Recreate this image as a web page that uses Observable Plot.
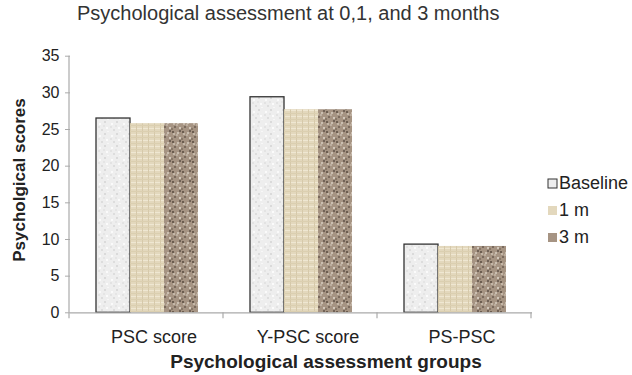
<!DOCTYPE html>
<html>
<head>
<meta charset="utf-8">
<script src="https://cdn.jsdelivr.net/npm/d3@7"></script>
<script src="https://cdn.jsdelivr.net/npm/@observablehq/plot@0.6"></script>
<style>
  html, body { margin: 0; padding: 0; background: #fff; }
  #wrap { position: relative; width: 632px; height: 375px; overflow: hidden; font-family: "Liberation Sans", Arial, sans-serif; color: #222; }
  #title { position: absolute; left: 77px; top: 2px; font-size: 20px; color: #333; white-space: nowrap; }
  #legend { position: absolute; left: 547px; top: 170px; font-size: 18px; color: #222; }
  #legend .row { display: flex; align-items: center; height: 27px; white-space: nowrap; }
  #legend svg { display: block; }
  #chart { position: absolute; left: 0; top: 0; }
</style>
</head>
<body>
<div id="wrap">
  <div id="chart"></div>
  <div id="title">Psychological assessment at 0,1, and 3 months</div>
  <div id="legend"></div>
</div>
<script>
// ---- data ----
const groups = ["PSC score", "Y-PSC score", "PS-PSC"];
const series = ["Baseline", "1 m", "3 m"];
const baseline = [26.5, 29.4, 9.3];
const month1 = [25.8, 27.7, 9.05];
const month3 = [25.8, 27.7, 9.05];
const yTicks = [0, 5, 10, 15, 20, 25, 30, 35];

const valuesBySeries = [baseline, month1, month3];
const rows = [];
groups.forEach((g, i) => series.forEach((s, j) => rows.push({group: g, series: s, value: valuesBySeries[j][i]})));

const patternIds = ["pat-base", "pat-1m", "pat-3m"];
const fills = patternIds.map(id => `url(#${id})`);

const chart = Plot.plot({
  width: 632,
  height: 375,
  marginLeft: 69,
  marginRight: 99,
  marginTop: 55.7,
  marginBottom: 62.7,
  style: {fontFamily: "Liberation Sans, Arial, sans-serif", fontSize: "16px", color: "#222", background: "transparent"},
  fx: {domain: groups, padding: 0, label: null, axis: null},
  x: {domain: series, paddingInner: 0, paddingOuter: 0.75, axis: null},
  y: {domain: [0, 35], ticks: yTicks, label: null, axis: null},
  color: {domain: series, range: fills, type: "ordinal"},
  marks: [
    Plot.barY(rows, {fx: "group", x: "series", y: "value", fill: "series",
      stroke: d => d.series === "Baseline" ? "#333" : "none", strokeWidth: 1.3}),
    Plot.ruleY([0], {stroke: "#aaa", strokeWidth: 1.2}),
    Plot.axisY({ticks: yTicks, facetAnchor: "left", frameAnchor: "left", tickSize: 5, tickPadding: 6, stroke: "#aaa", label: null, fontSize: 16, fill: "#222"})
  ]
});
document.getElementById("chart").appendChild(chart);

const svg = d3.select(chart);
// patterns (styling only)
const defs = svg.insert("defs", ":first-child");
{
  const p = defs.append("pattern").attr("id", "pat-base").attr("patternUnits", "userSpaceOnUse").attr("width", 12).attr("height", 12);
  p.append("rect").attr("width", 12).attr("height", 12).attr("fill", "#eeeeee");
  [[2,3,"#fafafa"],[7,1,"#dadada"],[9,7,"#fbfbfb"],[4,9,"#dddddd"],[1,6,"#e3e3e3"],[10,11,"#f7f7f7"],[6,5,"#e5e5e5"]].forEach(([x,y,c]) =>
    p.append("rect").attr("x", x).attr("y", y).attr("width", 2).attr("height", 2).attr("fill", c));
}
{
  const p = defs.append("pattern").attr("id", "pat-1m").attr("patternUnits", "userSpaceOnUse").attr("width", 6).attr("height", 6);
  p.append("rect").attr("width", 6).attr("height", 6).attr("fill", "#e3d8bd");
  p.append("rect").attr("x", 0).attr("y", 2).attr("width", 6).attr("height", 1).attr("fill", "#efe7d2");
  p.append("rect").attr("x", 3).attr("y", 0).attr("width", 1).attr("height", 6).attr("fill", "#d6c9aa");
  p.append("rect").attr("x", 0).attr("y", 5).attr("width", 6).attr("height", 1).attr("fill", "#dbcfb0");
}
{
  const p = defs.append("pattern").attr("id", "pat-3m").attr("patternUnits", "userSpaceOnUse").attr("width", 10).attr("height", 10);
  p.append("rect").attr("width", 10).attr("height", 10).attr("fill", "#a69483");
  [[1,1,"#6c5d50"],[6,2,"#cbbfb1"],[3,6,"#7a6a5d"],[8,7,"#d2c7ba"],[0,8,"#887868"],[5,4,"#bcae9f"],[8,0,"#716256"],[2,3,"#c4b7a8"]].forEach(([x,y,c]) =>
    p.append("rect").attr("x", x).attr("y", y).attr("width", 2).attr("height", 2).attr("fill", c));
}

// axes lines, x-axis ticks at group boundaries and labels, using Plot's scales
const fx = chart.scale("fx");
const yScale = chart.scale("y");
const y0 = yScale.apply(0);
const yTop = yScale.apply(35);
const left = 69;
const step = fx.bandwidth;
const g = svg.append("g");
g.append("line").attr("x1", left).attr("x2", left).attr("y1", yTop).attr("y2", y0).attr("stroke", "#aaa").attr("stroke-width", 1.2);
for (let i = 0; i <= groups.length; i++) {
  const xx = left + i * step;
  g.append("line").attr("x1", xx).attr("x2", xx).attr("y1", y0).attr("y2", y0 + 6).attr("stroke", "#aaa").attr("stroke-width", 1.2);
}
groups.forEach((grp, i) => {
  g.append("text").attr("x", left + (i + 0.5) * step + 8).attr("y", y0 + 31)
    .attr("text-anchor", "middle").attr("font-size", 18).attr("fill", "#222").text(grp);
});
g.append("text").attr("x", 326).attr("y", 368).attr("text-anchor", "middle")
  .attr("font-size", 19).attr("font-weight", "bold").attr("fill", "#222").text("Psychological assessment groups");
g.append("text").attr("transform", `translate(25,180) rotate(-90)`)
  .attr("text-anchor", "middle").attr("font-size", 17).attr("font-weight", "bold").attr("fill", "#222").text("Psycholgical scores");

// legend
const legend = d3.select("#legend");
series.forEach((s, i) => {
  const row = legend.append("div").attr("class", "row");
  const sw = row.append("svg").attr("width", 11).attr("height", 11).style("margin-right", "1px");
  sw.append("rect").attr("x", 1).attr("y", 1).attr("width", 9).attr("height", 9)
    .attr("fill", ["#eeeeee", "#e3d8bd", "#a69483"][i])
    .attr("stroke", i === 0 ? "#333" : "none").attr("stroke-width", 1);
  row.append("span").text(s);
});
</script>
</body>
</html>
